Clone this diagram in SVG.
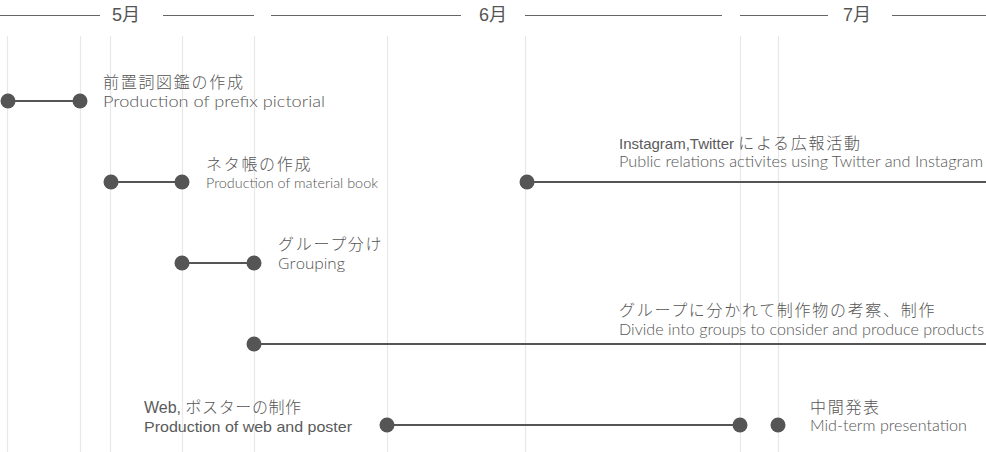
<svg xmlns="http://www.w3.org/2000/svg" width="986" height="452" viewBox="0 0 986 452">
<style>
.grid line{stroke:#e8e8e8;stroke-width:1.2}
.hdr line{stroke:#666;stroke-width:1.2}
.month{font-family:"Liberation Sans","Noto Sans CJK JP",sans-serif;font-size:18px;fill:#555}
.conn line{stroke:#555;stroke-width:2}
.dot{fill:#555}
.jp{font-family:"Noto Sans CJK JP",sans-serif;font-size:16px;font-weight:300;fill:#555;letter-spacing:1.7px}
.en{font-family:"Lato","Noto Sans",sans-serif;font-size:15px;font-weight:300;fill:#555}
.ar{font-family:"Liberation Sans","Noto Sans CJK JP",sans-serif;font-size:15px;fill:#5a5a5a}
</style>
<rect width="986" height="452" fill="#fff"/>
<g class="grid">
<line x1="7.5" y1="36" x2="7.5" y2="452"/>
<line x1="80.5" y1="36" x2="80.5" y2="452"/>
<line x1="110.5" y1="36" x2="110.5" y2="452"/>
<line x1="182.5" y1="36" x2="182.5" y2="452"/>
<line x1="254.5" y1="36" x2="254.5" y2="452"/>
<line x1="387.5" y1="36" x2="387.5" y2="452"/>
<line x1="525.5" y1="36" x2="525.5" y2="452"/>
<line x1="740.5" y1="36" x2="740.5" y2="452"/>
<line x1="778.5" y1="36" x2="778.5" y2="452"/>
</g>
<g class="hdr">
<line x1="0" y1="15.5" x2="100" y2="15.5"/>
<line x1="163" y1="15.5" x2="254" y2="15.5"/>
<line x1="271" y1="15.5" x2="461" y2="15.5"/>
<line x1="525" y1="15.5" x2="722" y2="15.5"/>
<line x1="740" y1="15.5" x2="828" y2="15.5"/>
<line x1="892" y1="15.5" x2="986" y2="15.5"/>
<text class="month" x="112" y="21">5月</text>
<text class="month" x="479" y="21">6月</text>
<text class="month" x="843" y="21">7月</text>
</g>
<g class="conn">
<line x1="8" y1="101" x2="80" y2="101"/>
<line x1="111" y1="182" x2="182" y2="182"/>
<line x1="182" y1="263" x2="254" y2="263"/>
<line x1="527" y1="182" x2="986" y2="182"/>
<line x1="254" y1="344" x2="986" y2="344"/>
<line x1="387" y1="425" x2="740" y2="425"/>
</g>
<g id="node-prefix">
<circle class="dot" cx="8" cy="101" r="7.5"/>
<circle class="dot" cx="80" cy="101" r="7.5"/>
<text class="jp" x="103" y="88">前置詞図鑑の作成</text>
<text class="en" x="103" y="107" textLength="222" lengthAdjust="spacingAndGlyphs">Production of prefix pictorial</text>
</g>
<g id="node-material">
<circle class="dot" cx="111" cy="182" r="7.5"/>
<circle class="dot" cx="182" cy="182" r="7.5"/>
<text class="jp" x="206" y="170">ネタ帳の作成</text>
<text class="en" x="206" y="188" style="font-size:13px" textLength="172" lengthAdjust="spacingAndGlyphs">Production of material book</text>
</g>
<g id="node-grouping">
<circle class="dot" cx="182" cy="263" r="7.5"/>
<circle class="dot" cx="254" cy="263" r="7.5"/>
<text class="jp" x="278" y="250">グループ分け</text>
<text class="en" x="278" y="269" style="font-family:'Open Sans',sans-serif;font-size:14px" textLength="67" lengthAdjust="spacingAndGlyphs">Grouping</text>
</g>
<g id="node-sns">
<circle class="dot" cx="527" cy="182" r="7.5"/>
<text class="ar" x="619" y="149">Instagram,Twitter <tspan class="jp" style="font-size:16px">による広報活動</tspan></text>
<text class="en" x="619" y="167" textLength="364" lengthAdjust="spacingAndGlyphs">Public relations activites using Twitter and Instagram</text>
</g>
<g id="node-groups">
<circle class="dot" cx="254" cy="344" r="7.5"/>
<text class="jp" x="619" y="315.5">グループに分かれて制作物の考察、制作</text>
<text class="en" x="619" y="335" textLength="365" lengthAdjust="spacingAndGlyphs">Divide into groups to consider and produce products</text>
</g>
<g id="node-web">
<circle class="dot" cx="387" cy="425" r="7.5"/>
<circle class="dot" cx="740" cy="425" r="7.5"/>
<text class="ar" x="144" y="413" style="font-size:16px">Web, <tspan class="jp" style="letter-spacing:0.6px">ポスターの制作</tspan></text>
<text class="ar" x="144" y="432" textLength="208" lengthAdjust="spacingAndGlyphs">Production of web and poster</text>
</g>
<g id="node-mid">
<circle class="dot" cx="778" cy="425" r="7.5"/>
<text class="jp" x="810" y="413">中間発表</text>
<text class="en" x="810" y="431" textLength="157" lengthAdjust="spacingAndGlyphs">Mid-term presentation</text>
</g>
</svg>
